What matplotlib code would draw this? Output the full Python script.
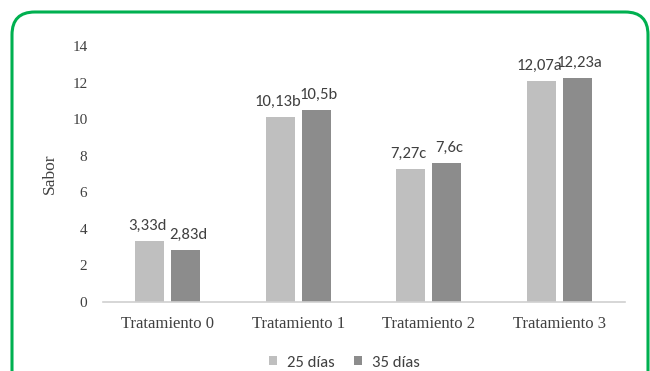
import matplotlib.pyplot as plt
from matplotlib.patches import FancyBboxPatch
from matplotlib import font_manager
import numpy as np

categorias = ["Tratamiento 0", "Tratamiento 1", "Tratamiento 2", "Tratamiento 3"]
series = ["25 días", "35 días"]
valores_25 = [3.33, 10.13, 7.27, 12.07]
valores_35 = [2.83, 10.5, 7.6, 12.23]
letras_25 = ["d", "b", "c", "a"]
letras_35 = ["d", "b", "c", "a"]
colores = ["#bfbfbf", "#8c8c8c"]

nombres = {f.name for f in font_manager.fontManager.ttflist}

def primera(opciones):
    for o in opciones:
        if o in nombres:
            return o
    return "DejaVu Sans"

serif = primera(["Tinos", "Liberation Serif"])
sans = primera(["Carlito", "Roboto Condensed", "Open Sans Condensed", "Roboto"])

fig = plt.figure(figsize=(6.5, 3.71), dpi=100)
ax = fig.add_axes([0.158, 0.186, 0.803, 0.690])

x = np.arange(len(categorias))
ancho = 0.222
desp = 0.138

def etiqueta(v, letra):
    # coma decimal, sin ceros de sobra
    txt = ("%.2f" % v).rstrip("0").rstrip(".").replace(".", ",")
    return txt + letra

for i, (vals, letras) in enumerate([(valores_25, letras_25), (valores_35, letras_35)]):
    pos = x + (-desp if i == 0 else desp)
    barras = ax.bar(pos, vals, ancho, color=colores[i], label=series[i], zorder=2)
    for b, v, l in zip(barras, vals, letras):
        ax.annotate(etiqueta(v, l), (b.get_x() + b.get_width() / 2, v),
                    xytext=(-1.5 if i == 0 else 1.5, 6), textcoords="offset points",
                    ha="center", va="bottom", fontsize=12,
                    family=sans, color="#404040")

ax.set_xlim(-0.5, 3.5)
ax.set_ylim(0, 14)
ax.set_yticks(range(0, 15, 2))
ax.set_xticks(x)
ax.set_xticklabels(categorias, family=serif, fontsize=12, color="#404040")
for t in ax.get_yticklabels():
    t.set_family(serif)
    t.set_fontsize(11)
    t.set_color("#404040")
ax.tick_params(axis="both", length=0)
ax.tick_params(axis="y", pad=11)
ax.tick_params(axis="x", pad=10)
ax.set_ylabel("Sabor", family=serif, fontsize=12.5, color="#404040", labelpad=10)

for s in ["top", "right", "left"]:
    ax.spines[s].set_visible(False)
ax.spines["bottom"].set_color("#d0d0d0")
ax.spines["bottom"].set_linewidth(1.2)

leg = fig.legend(loc="center", bbox_to_anchor=(0.53, 0.022), ncol=2,
                 frameon=False, handlelength=0.45, handleheight=0.45,
                 handletextpad=0.6, columnspacing=1.2,
                 prop={"family": sans, "size": 12})
for t in leg.get_texts():
    t.set_color("#404040")

# marco verde redondeado
W, H = 650, 371
marco = FancyBboxPatch((12 / W, -40 / H), (648 - 12) / W, (H - 12 + 40) / H,
                       boxstyle="round,pad=0,rounding_size=0.035",
                       transform=fig.transFigure, fill=False,
                       edgecolor="#00b050", linewidth=2.2, clip_on=False,
                       mutation_aspect=W / H)
fig.patches.append(marco)

fig.savefig("out.png", dpi=100, facecolor="white")
